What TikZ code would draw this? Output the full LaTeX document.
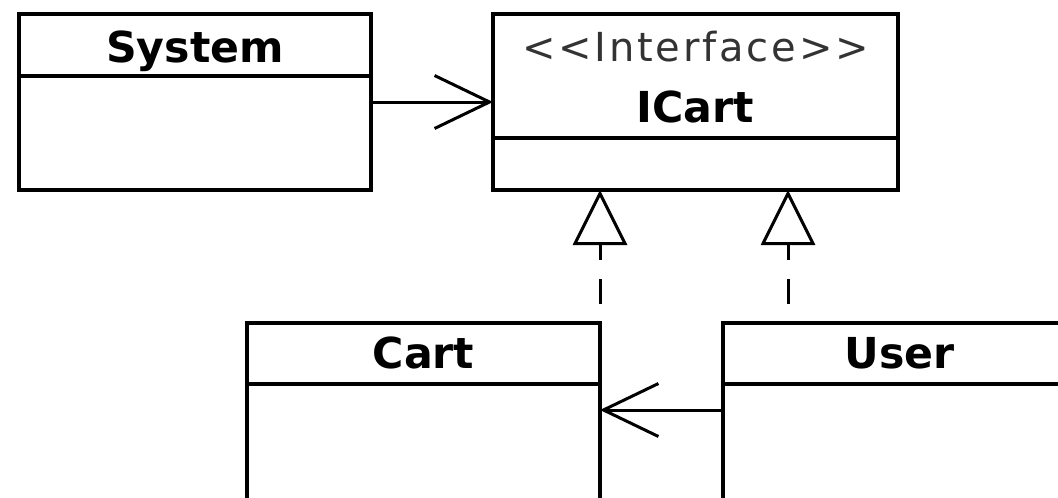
\documentclass[tikz,border=0pt]{standalone}
\usepackage{fontspec}
\setmainfont{DejaVu Sans}
\newfontfamily\stereofont[LetterSpace=7]{DejaVu Sans}
\usetikzlibrary{arrows.meta}
\definecolor{stereo}{HTML}{333333}
\begin{document}
\begin{tikzpicture}[x=0.75pt,y=-0.75pt,
  box/.style={draw=black, line width=2.4pt, inner sep=0pt, outer sep=0pt, fill=white},
  title/.style={font=\fontsize{32}{36}\selectfont\bfseries, inner sep=0pt, anchor=base},
  stereotype/.style={font=\stereofont\fontsize{30}{36}\selectfont, text=stereo, inner sep=0pt, anchor=base},
  assoc/.style={line width=2.25pt, -{Straight Barb[length=41.25pt, width=39.75pt]}},
  realize/.style={line width=2.25pt, dash pattern=on 18.75pt off 14.25pt, dash phase=18.75pt,
    -{Triangle[open, length=41.25pt, width=40.5pt]}}]
\useasboundingbox (0,0) rectangle (1058,497);
\fill[white] (0,0) rectangle (1058,497);
\clip (0,0) rectangle (1058,497);
% System
\node[box, minimum width=264pt, minimum height=46.5pt, anchor=north west] (syshead) at (19,14) {};
\node[box, minimum width=264pt, minimum height=85.5pt, anchor=north] (sysbody) at (syshead.south) {};
\node[title] (systitle) at ([yshift=10.5pt]syshead.south) {System};
% ICart
\node[box, minimum width=303.75pt, minimum height=93pt, anchor=north west] (icarthead) at (493,14) {};
\node[box, minimum width=303.75pt, minimum height=39pt, anchor=north] (icartbody) at (icarthead.south) {};
\node[stereotype] (icartstereo) at ([yshift=-35.25pt]icarthead.north) {<{}<Interface>{}>};
\node[title] (icarttitle) at ([yshift=12pt]icarthead.south) {ICart};
% Cart
\node[box, minimum width=264.75pt, minimum height=45.75pt, anchor=north west] (carthead) at (247,323) {};
\node[box, minimum width=264.75pt, minimum height=150pt, anchor=north] (cartbody) at (carthead.south) {};
\node[title] (carttitle) at ([yshift=12pt]carthead.south) {Cart};
% User
\node[box, minimum width=264.75pt, minimum height=45.75pt, anchor=north west] (userhead) at (723,323) {};
\node[box, minimum width=264.75pt, minimum height=150pt, anchor=north] (userbody) at (userhead.south) {};
\node[title] (usertitle) at ([yshift=12pt]userhead.south) {User};
% connectors
\draw[assoc] ([yshift=-19.5pt]syshead.south east) -- ([yshift=-19.5pt]syshead.south east -| icarthead.west);
\draw[assoc] ([yshift=-19.5pt]userhead.south west) -- ([yshift=-19.5pt]userhead.south west -| carthead.east);
\draw[realize] (carthead.north east) -- (carthead.north east |- icartbody.south);
\draw[realize] ([xshift=48.75pt]userhead.north west) -- ([xshift=48.75pt]userhead.north west |- icartbody.south);
\end{tikzpicture}
\end{document}
